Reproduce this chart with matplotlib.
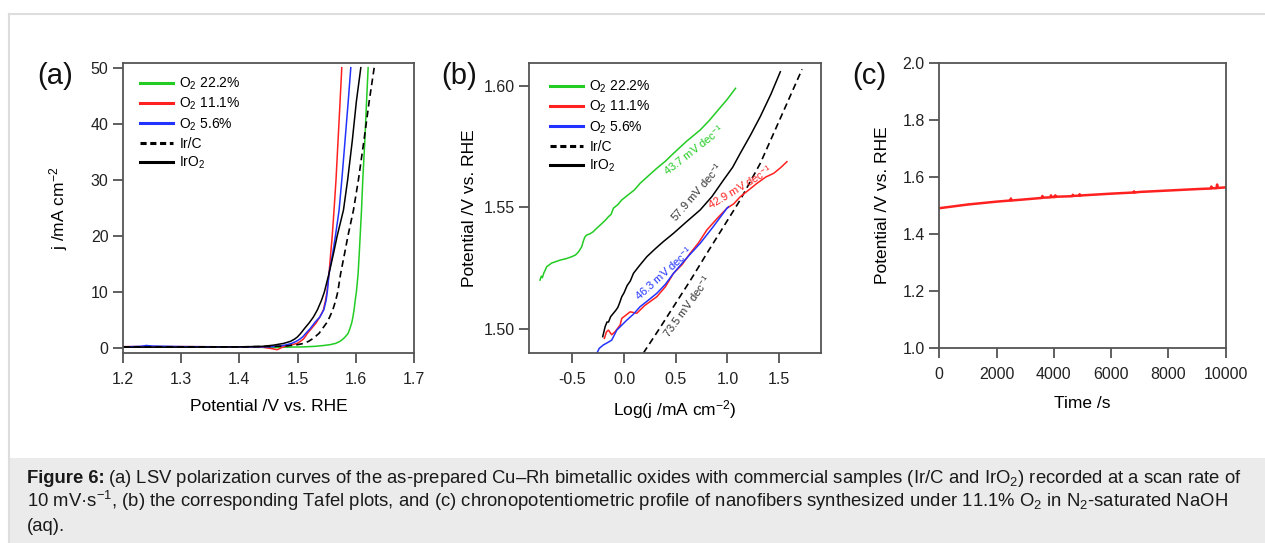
import matplotlib
matplotlib.use("Agg")
import matplotlib.pyplot as plt
from matplotlib.patches import Rectangle
from matplotlib.lines import Line2D

plt.rcParams['font.family'] = ['Liberation Sans', 'DejaVu Sans']
plt.rcParams['mathtext.fontset'] = 'custom'
plt.rcParams['mathtext.rm'] = 'Liberation Sans'
plt.rcParams['mathtext.it'] = 'Liberation Sans:italic'
plt.rcParams['mathtext.bf'] = 'Liberation Sans:bold'
plt.rcParams['mathtext.default'] = 'regular'
plt.rcParams['axes.unicode_minus'] = False

W, H = 1265, 543

# (a) LSV curves: potential (V vs RHE) and current density (mA cm-2)
lsv_v_222 = [1.20, 1.30, 1.40, 1.46, 1.48, 1.51, 1.53, 1.545, 1.556, 1.5655, 1.573, 1.578, 1.582, 1.5867, 1.590, 1.593,
             1.595, 1.597, 1.599, 1.601, 1.604, 1.606, 1.6075, 1.6098, 1.612, 1.6155, 1.6185, 1.6212]
lsv_j_222 = [0.2, 0.2, 0.15, 0.1, 0.15, 0.2, 0.3, 0.45, 0.6, 0.83, 1.2, 1.6, 2.0, 2.6, 3.5, 4.5,
             5.5, 6.8, 8.5, 10.0, 13.3, 17.0, 20.0, 24.6, 30.0, 37.0, 44.0, 50.0]
lsv_v_111 = [1.20, 1.30, 1.40, 1.44, 1.455, 1.465, 1.475, 1.485, 1.4994, 1.505, 1.51, 1.513, 1.5167, 1.524, 1.532, 1.538,
             1.5443, 1.548, 1.5505, 1.554, 1.557, 1.5595, 1.5626, 1.566, 1.5695, 1.573, 1.5759]
lsv_j_111 = [0.25, 0.25, 0.2, 0.15, -0.1, -0.3, 0.2, 0.45, 0.83, 1.2, 1.6, 2.0, 2.6, 3.5, 4.5, 5.5,
             6.8, 8.5, 10.0, 13.3, 17.0, 20.0, 24.6, 30.0, 37.0, 44.0, 50.0]
lsv_v_56 = [1.20, 1.23, 1.24, 1.25, 1.30, 1.40, 1.45, 1.47, 1.482, 1.49, 1.498, 1.504, 1.509, 1.514, 1.522, 1.530, 1.538,
            1.545, 1.549, 1.551, 1.554, 1.5605, 1.565, 1.5713, 1.576, 1.5815, 1.587, 1.5914]
lsv_j_56 = [0.2, 0.3, 0.45, 0.35, 0.25, 0.2, 0.2, 0.35, 0.6, 0.83, 1.2, 1.6, 2.0, 2.6, 3.5, 4.6, 5.5,
            6.8, 8.5, 10.0, 13.3, 17.0, 20.0, 24.6, 30.0, 37.0, 44.0, 50.0]
lsv_v_irc = [1.20, 1.30, 1.40, 1.46, 1.48, 1.50, 1.5109, 1.519, 1.525, 1.530, 1.5367, 1.543, 1.550, 1.555, 1.5605, 1.5655,
             1.569, 1.574, 1.581, 1.5865, 1.596, 1.6045, 1.614, 1.623, 1.6316]
lsv_j_irc = [0.2, 0.2, 0.2, 0.3, 0.35, 0.6, 0.83, 1.2, 1.6, 2.0, 2.6, 3.5, 4.5, 5.5, 6.8, 8.5,
             10.0, 13.3, 17.0, 20.0, 24.6, 30.0, 37.0, 44.0, 50.0]
lsv_v_iro2 = [1.20, 1.30, 1.40, 1.44, 1.458, 1.4764, 1.488, 1.495, 1.500, 1.5052, 1.512, 1.520, 1.527, 1.534, 1.541, 1.546,
              1.554, 1.562, 1.568, 1.5788, 1.586, 1.594, 1.601, 1.6086]
lsv_j_iro2 = [0.15, 0.15, 0.2, 0.3, 0.5, 0.83, 1.2, 1.6, 2.0, 2.6, 3.5, 4.5, 5.5, 6.8, 8.5, 10.0,
              13.3, 17.0, 20.0, 24.6, 30.0, 37.0, 44.0, 50.0]

# (b) Tafel plots: log(j) and potential
tafel_x_222 = [-0.813, -0.800, -0.790, -0.775, -0.760, -0.748, -0.700, -0.619, -0.560, -0.506, -0.470, -0.440, -0.409, -0.395,
               -0.380, -0.361, -0.330, -0.300, -0.264, -0.220, -0.180, -0.151, -0.125, -0.103, -0.060, -0.022, 0.040,
               0.100, 0.155, 0.230, 0.317, 0.400, 0.478, 0.600, 0.736, 0.820, 0.900, 1.000, 1.078]
tafel_y_222 = [1.5202, 1.5218, 1.5212, 1.5232, 1.5245, 1.5257, 1.5272, 1.5284, 1.5290, 1.5298, 1.5305, 1.5318, 1.5339, 1.5360,
               1.5378, 1.5387, 1.5392, 1.5400, 1.5415, 1.5432, 1.5448, 1.5462, 1.5472, 1.5497, 1.5512, 1.5531, 1.5552,
               1.5572, 1.5599, 1.5628, 1.5661, 1.5690, 1.5722, 1.5770, 1.5818, 1.5855, 1.5895, 1.5945, 1.5989]
tafel_x_111 = [-0.190, -0.170, -0.151, -0.120, -0.087, -0.038, -0.022, 0.059, 0.123, 0.200, 0.317, 0.400, 0.478, 0.560, 0.639,
               0.720, 0.801, 0.900, 0.995, 1.060, 1.123, 1.200, 1.285, 1.370, 1.446, 1.510, 1.575]
tafel_y_111 = [1.4963, 1.4990, 1.4997, 1.4978, 1.4990, 1.5018, 1.5045, 1.5072, 1.5066, 1.5098, 1.5134, 1.5175, 1.5230, 1.5265, 1.5312,
               1.5355, 1.5408, 1.5455, 1.5497, 1.5515, 1.5544, 1.5570, 1.5599, 1.5625, 1.5640, 1.5662, 1.5688]
tafel_x_56 = [-0.264, -0.240, -0.200, -0.150, -0.119, -0.070, 0.027, 0.090, 0.155, 0.230, 0.317, 0.400, 0.478, 0.600, 0.736,
              0.860, 0.995, 1.010]
tafel_y_56 = [1.4901, 1.4922, 1.4936, 1.4948, 1.4956, 1.4997, 1.5038, 1.5062, 1.5093, 1.5118, 1.5148, 1.5185, 1.5230, 1.5290,
              1.5353, 1.5420, 1.5497, 1.5503]
tafel_x_irc = [0.187, 0.330, 0.478, 0.640, 0.801, 0.960, 1.123, 1.317, 1.511, 1.721]
tafel_y_irc = [1.4903, 1.4995, 1.5093, 1.5200, 1.5312, 1.5420, 1.5531, 1.5681, 1.5866, 1.6067]
tafel_x_iro2 = [-0.206, -0.195, -0.183, -0.165, -0.150, -0.130, -0.103, -0.080, -0.060, -0.040, -0.022, 0.000, 0.030, 0.060,
                0.091, 0.150, 0.220, 0.300, 0.380, 0.478, 0.600, 0.736, 0.850, 0.962, 1.050, 1.123, 1.220, 1.317, 1.420, 1.511]
tafel_y_iro2 = [1.4970, 1.4990, 1.5011, 1.5030, 1.5030, 1.5052, 1.5066, 1.5078, 1.5090, 1.5112, 1.5134, 1.5150, 1.5180, 1.5198,
                1.5230, 1.5262, 1.5298, 1.5330, 1.5360, 1.5394, 1.5440, 1.5490, 1.5545, 1.5613, 1.5665, 1.5722, 1.5795, 1.5873, 1.5965, 1.6057]

# slopes written next to each Tafel line: text, x, y, angle, colour
slope_text = ["43.7 mV dec$^{-1}$", "57.9 mV dec$^{-1}$", "42.9 mV dec$^{-1}$", "46.3 mV dec$^{-1}$", "73.5 mV dec$^{-1}$"]
slope_x = [0.671, 0.704, 1.123, 0.381, 0.607]
slope_y = [1.5736, 1.5565, 1.5585, 1.5230, 1.5093]
slope_rot = [38, 49, 31, 42, 54]
slope_col = ['#22cc22', '#333333', '#ff2020', '#2233ff', '#333333']

# (c) chronopotentiometry at 11.1% O2
chrono_t = [0, 1000, 2000, 2480, 2500, 2520, 3000, 3580, 3600, 3620, 3880, 3900, 3920, 4030, 4050, 4070, 4000, 4640, 4660, 4680,
            4880, 4900, 4920, 5000, 6000, 6780, 6800, 6820, 7000, 8000, 9000, 9480, 9500, 9520, 9680, 9700, 9720, 10000]
chrono_e = [1.490, 1.503, 1.513, 1.517, 1.524, 1.517, 1.521, 1.526, 1.533, 1.527, 1.528, 1.535, 1.529, 1.529, 1.535, 1.530, 1.530, 1.532, 1.537, 1.533,
            1.534, 1.539, 1.534, 1.535, 1.541, 1.545, 1.549, 1.545, 1.547, 1.552, 1.557, 1.559, 1.566, 1.560, 1.560, 1.573, 1.561, 1.563]

green, red, blue = '#22cc22', '#ff2020', '#2233ff'


def px_axes(fig, left, top, right, bottom):
    return fig.add_axes([left / W, 1 - bottom / H, (right - left) / W, (bottom - top) / H])


def style(ax):
    for s in ax.spines.values():
        s.set_linewidth(1.3)
        s.set_color('#555555')
    ax.tick_params(direction='out', length=7.5, width=1.2, color='#444444',
                   labelsize=11.5, labelcolor='#222222')
    ax.tick_params(axis='x', pad=6)
    ax.tick_params(axis='y', pad=3)


def legend(ax, x, y):
    handles = [Line2D([], [], color=green, lw=2.2), Line2D([], [], color=red, lw=2.2),
               Line2D([], [], color=blue, lw=2.2), Line2D([], [], color='k', lw=2.2, ls=(0, (2, 1.2))),
               Line2D([], [], color='k', lw=2.2)]
    labels = ['O$_2$ 22.2%', 'O$_2$ 11.1%', 'O$_2$ 5.6%', 'Ir/C', 'IrO$_2$']
    ax.legend(handles, labels, loc='upper left', bbox_to_anchor=(x, y), frameon=False,
              fontsize=10, handlelength=2.4, handletextpad=0.45, labelspacing=0.28,
              borderpad=0, borderaxespad=0)


fig = plt.figure(figsize=(W / 100, H / 100), dpi=100)
fig.patch.set_facecolor('white')

# page frame and caption box
fig.add_artist(Line2D([9 / W, 1], [1 - 14 / H, 1 - 14 / H], transform=fig.transFigure, color='#dddddd', lw=1.5))
fig.add_artist(Line2D([9 / W, 9 / W], [0, 1 - 14 / H], transform=fig.transFigure, color='#dddddd', lw=1.5))
fig.add_artist(Rectangle((9.5 / W, 0), 1, (H - 457.7) / H, transform=fig.transFigure,
                         facecolor='#ebebeb', edgecolor='none'))

# (a)
ax1 = px_axes(fig, 123, 62.7, 414, 353)
ax1.plot(lsv_v_222, lsv_j_222, color=green, lw=1.1)
ax1.plot(lsv_v_111, lsv_j_111, color=red, lw=1.1)
ax1.plot(lsv_v_56, lsv_j_56, color=blue, lw=1.1)
ax1.plot(lsv_v_irc, lsv_j_irc, color='k', lw=1.2, ls=(0, (4, 2.5)))
ax1.plot(lsv_v_iro2, lsv_j_iro2, color='k', lw=1.1)
ax1.set_xlim(1.2, 1.7)
ax1.set_ylim(-0.89, 50.89)
ax1.set_xticks([1.2, 1.3, 1.4, 1.5, 1.6, 1.7])
ax1.set_xticklabels(['1.2', '1.3', '1.4', '1.5', '1.6', '1.7'])
ax1.set_yticks([0, 10, 20, 30, 40, 50])
style(ax1)
ax1.set_xlabel('Potential /V vs. RHE', fontsize=12.5, labelpad=9)
ax1.set_ylabel('j /mA cm$^{-2}$', fontsize=12.5, labelpad=15)
legend(ax1, 0.058, 0.955)

# (b)
ax2 = px_axes(fig, 529.3, 62.7, 821, 353)
ax2.plot(tafel_x_222, tafel_y_222, color=green, lw=1.1)
ax2.plot(tafel_x_iro2, tafel_y_iro2, color='k', lw=1.1)
ax2.plot(tafel_x_irc, tafel_y_irc, color='k', lw=1.2, ls=(0, (4, 2.5)))
ax2.plot(tafel_x_111, tafel_y_111, color=red, lw=1.1)
ax2.plot(tafel_x_56, tafel_y_56, color=blue, lw=1.1)
for t, x, y, r, c in zip(slope_text, slope_x, slope_y, slope_rot, slope_col):
    ax2.text(x, y, t, rotation=r, color=c, fontsize=8, ha='center', va='center',
             rotation_mode='anchor')
ax2.set_xlim(-0.916, 1.904)
ax2.set_ylim(1.4903, 1.6094)
ax2.set_xticks([-0.5, 0.0, 0.5, 1.0, 1.5])
ax2.set_xticklabels(['-0.5', '0.0', '0.5', '1.0', '1.5'])
ax2.set_yticks([1.50, 1.55, 1.60])
ax2.set_yticklabels(['1.50', '1.55', '1.60'])
style(ax2)
ax2.set_xlabel('Log(j /mA cm$^{-2}$)', fontsize=12.5, labelpad=8)
ax2.set_ylabel('Potential /V vs. RHE', fontsize=12.5, labelpad=5)
legend(ax2, 0.07, 0.945)

# (c)
ax3 = px_axes(fig, 939.3, 62.7, 1225.7, 348)
ax3.plot(chrono_t, chrono_e, color=red, lw=1.8)
ax3.set_xlim(0, 10000)
ax3.set_ylim(1.0, 2.0)
ax3.set_xticks([0, 2000, 4000, 6000, 8000, 10000])
ax3.set_yticks([1.0, 1.2, 1.4, 1.6, 1.8, 2.0])
ax3.set_yticklabels(['1.0', '1.2', '1.4', '1.6', '1.8', '2.0'])
style(ax3)
ax3.set_xlabel('Time /s', fontsize=12.5, labelpad=10)
ax3.set_ylabel('Potential /V vs. RHE', fontsize=12.5, labelpad=9)

# panel letters
for lab, xp in [('(a)', 55), ('(b)', 459), ('(c)', 869)]:
    fig.text(xp / W, 1 - 76 / H, lab, fontsize=21, ha='center', va='center', color='#111111')

# caption: bold figure number, then the text after it
capsize = 13.3
renderer = fig.canvas.get_renderer()
head = fig.text(26.7 / W, 1 - 483 / H, 'Figure 6:', fontsize=capsize, fontweight='bold',
                ha='left', va='baseline', color='#1a1a1a')
hw = head.get_window_extent(renderer).width
cap = ["(a) LSV polarization curves of the as-prepared Cu–Rh bimetallic oxides with commercial samples (Ir/C and IrO$_2$) recorded at a scan rate of",
       r"10 mV·s$^{-1}$, (b) the corresponding Tafel plots, and (c) chronopotentiometric profile of nanofibers synthesized under 11.1% O$_2$ in N$_2$-saturated NaOH",
       "(aq)."]
for i, (line, yb) in enumerate(zip(cap, [483, 507, 531])):
    x0 = 26.7 + (hw + 4 if i == 0 else 0)
    fig.text(x0 / W, 1 - yb / H, line, fontsize=capsize, ha='left', va='baseline', color='#1a1a1a')

fig.savefig('out.png', dpi=100)
